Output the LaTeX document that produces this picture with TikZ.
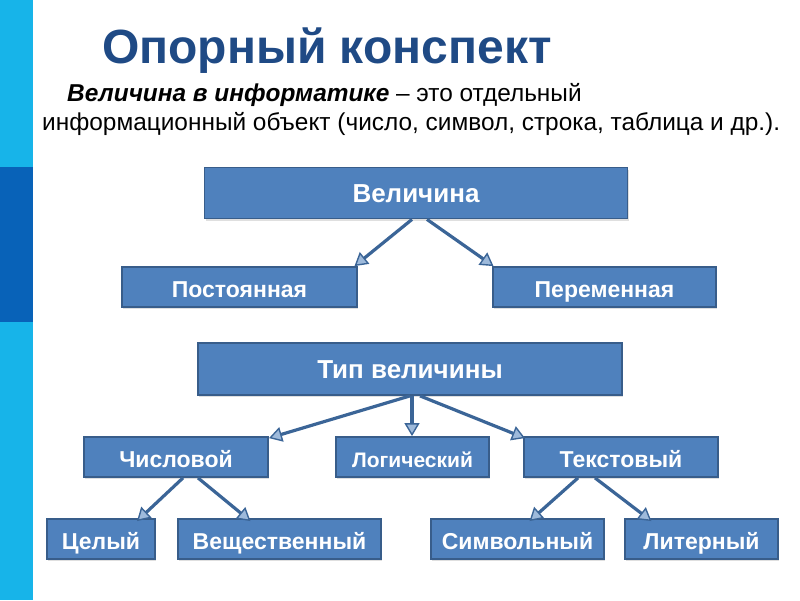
\documentclass[tikz,border=0pt]{standalone}
\usepackage{fontspec}
\setmainfont{Liberation Sans}
\usetikzlibrary{positioning,arrows.meta,shadows}

\definecolor{boxblue}{HTML}{4F81BD}
\definecolor{boxedge}{HTML}{385D8A}
\definecolor{arrblue}{HTML}{3B6597}
\definecolor{titleblue}{HTML}{1F4A85}
\definecolor{stripecyan}{HTML}{17B4E9}
\definecolor{stripedark}{HTML}{0862B8}

\begin{document}
\begin{tikzpicture}[
  x=1pt, y=-1pt,
  box/.style={
    draw=boxedge,
    line width=1.8pt,
    fill=boxblue,
    text=white,
    font=\bfseries\fontsize{23}{25}\selectfont,
    text height=20pt, text depth=0pt,
    minimum height=40pt,
    inner sep=0pt,
    drop shadow={opacity=0.25, shadow xshift=1pt, shadow yshift=-2pt}
  },
  bigbox/.style={box, minimum height=51pt,
    font=\bfseries\fontsize{26}{28}\selectfont, text height=19pt, text depth=0pt},
  arr/.style={
    draw=arrblue,
    line width=3.2pt,
    -{Triangle[length=13pt, width=15pt, line width=1.4pt, fill=boxblue!55!white]}
  }
]
\useasboundingbox (0,0) rectangle (800,600);

% --- left stripe ---
\fill[stripecyan] (0,0) rectangle (33,600);
\fill[stripedark] (0,167) rectangle (33,322);

% --- heading and definition ---
\node[anchor=base west, inner sep=0pt, text=titleblue,
  font=\bfseries\fontsize{48}{52}\selectfont] (title) at (102,63) {Опорный конспект};
\node[anchor=base west, inner sep=0pt, font=\fontsize{24.4}{28}\selectfont] (def1) at (67,101)
  {\textbf{\textit{Величина в информатике}} – это отдельный};
\node[anchor=base west, inner sep=0pt, font=\fontsize{24.4}{28}\selectfont] (def2) at (42,130)
  {информационный объект (число, символ, строка, таблица и др.).};

% --- upper tree ---
\node[bigbox, minimum width=423pt] (val) at (416,193) {Величина};
\node[box, minimum width=235pt] (const) at (239.5,287) {Постоянная};
\node[box, minimum width=223pt] (var) at (604.5,287) {Переменная};

% --- lower tree ---
\node[bigbox, minimum width=424pt, minimum height=52pt] (type) at (410,369) {Тип величины};
\node[box, minimum width=184pt] (num) at (176,457) {Числовой};
\node[box, minimum width=153pt, font=\bfseries\fontsize{21}{23}\selectfont] (logic) at (412.5,457) {Логический};
\node[box, minimum width=194pt] (text) at (621,457) {Текстовый};

\node[box, minimum width=108pt] (int) at (101,539) {Целый};
\node[box, minimum width=203pt] (real) at (279.5,539) {Вещественный};
\node[box, minimum width=173pt] (sym) at (517.5,539) {Символьный};
\node[box, minimum width=153pt] (lit) at (701.5,539) {Литерный};

% --- arrows ---
\draw[arr] ([xshift=-4pt]val.south) -- ([xshift=115pt]const.north);
\draw[arr] ([xshift=11pt]val.south) -- ([xshift=-111pt]var.north);

\draw[arr] (type.south) -- ([xshift=93pt,yshift=-2pt]num.north);
\draw[arr] ([xshift=2pt]type.south) -- ([xshift=-0.5pt]logic.north);
\draw[arr] ([xshift=10pt]type.south) -- ([xshift=-96pt,yshift=-2pt]text.north);

\draw[arr] ([xshift=7pt]num.south) -- ([xshift=36pt,yshift=-3pt]int.north);
\draw[arr] ([xshift=22pt]num.south) -- ([xshift=-29pt,yshift=-3pt]real.north);
\draw[arr] ([xshift=-43pt]text.south) -- ([xshift=12pt,yshift=-3pt]sym.north);
\draw[arr] ([xshift=-26pt]text.south) -- ([xshift=-50pt,yshift=-3pt]lit.north);
\end{tikzpicture}
\end{document}
